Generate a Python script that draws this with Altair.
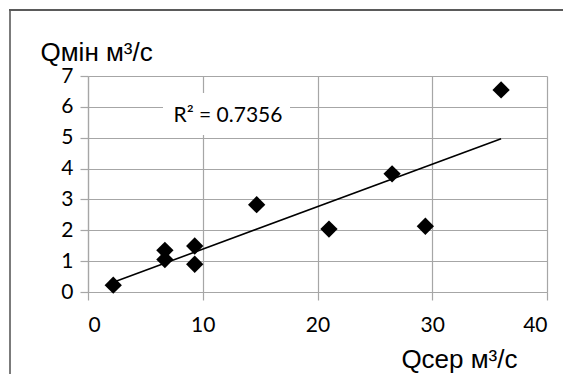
import altair as alt
import pandas as pd

# Data
q_avg = [2.2, 6.7, 6.7, 9.3, 9.3, 14.7, 21.0, 26.5, 29.4, 36.0]
q_min = [0.22, 1.35, 1.05, 1.49, 0.90, 2.83, 2.04, 3.83, 2.13, 6.55]
x_ticks = [0, 10, 20, 30, 40]
y_ticks = [0, 1, 2, 3, 4, 5, 6, 7]
r2_label = ["R² = 0.7356"]
x_title = "Qсер м³/с"
y_title = "Qмін м³/с"

df = pd.DataFrame({"x": q_avg, "y": q_min})

W, H = 459, 216
GRAY = "#a6a6a6"

xs = alt.Scale(domain=[0, 40], nice=False, zero=False)
ys = alt.Scale(domain=[0, 7], nice=False, zero=False)

x_axis = alt.Axis(values=x_ticks, tickCount=5, title=x_title, titleAnchor="start", titleAlign="right",
                  titleX=429, titleY=75, titleBaseline="alphabetic",
                  titleFont="Liberation Sans", titleFontSize=26, titleFontWeight="normal",
                  titleColor="#000000", labelPadding=14, labelOverlap=False)
y_axis = alt.Axis(values=y_ticks, tickCount=8, title=y_title, titleAngle=0, titleAlign="left",
                  titleX=-48, titleY=-16, titleBaseline="alphabetic",
                  titleFont="Liberation Sans", titleFontSize=26, titleFontWeight="normal",
                  titleColor="#000000", labelPadding=7, labelOverlap=False)

base = alt.Chart(df)

frame_df = pd.DataFrame({"a": [0]})
border_top = alt.Chart(frame_df).mark_rule(color="#5a5a5a", strokeWidth=2).encode(
    x=alt.value(-79), x2=alt.value(480), y=alt.value(-66), y2=alt.value(-66)
)
border_left = alt.Chart(frame_df).mark_rule(color="#5a5a5a", strokeWidth=1.6).encode(
    x=alt.value(-78), x2=alt.value(-78), y=alt.value(-66), y2=alt.value(330)
)

points = base.mark_point(shape="diamond", filled=True, size=300, color="black", opacity=1).encode(
    x=alt.X("x:Q", scale=xs, axis=x_axis),
    y=alt.Y("y:Q", scale=ys, axis=y_axis),
)

trend = base.transform_regression("x", "y").mark_line(color="black", strokeWidth=1.6).encode(
    x=alt.X("x:Q", scale=xs, axis=x_axis),
    y=alt.Y("y:Q", scale=ys, axis=y_axis),
)

lab_df = pd.DataFrame({"t": r2_label})
label_box = alt.Chart(lab_df).mark_rect(fill="white", stroke=None).encode(
    x=alt.value(75), x2=alt.value(202), y=alt.value(17), y2=alt.value(59)
)
label = alt.Chart(lab_df).mark_text(
    font="Lato", fontSize=21, color="black", align="center", baseline="middle"
).encode(text="t:N", x=alt.value(140), y=alt.value(40))

chart = alt.layer(border_top, border_left, points, trend, label_box, label).properties(
    width=W, height=H,
    padding={"left": 80, "top": 68, "right": 16, "bottom": 82},
    autosize=alt.AutoSizeParams(type="none"),
    background="white",
).configure_view(stroke=None).configure_axis(
    grid=True, gridColor=GRAY, gridWidth=1.2,
    domainColor=GRAY, domainWidth=1.2,
    tickColor=GRAY, tickSize=8, tickWidth=1.2,
    labelFont="Lato", labelFontSize=21, labelColor="#000000",
)

chart.save("out.html", embed_options={"renderer": "svg", "actions": False})
